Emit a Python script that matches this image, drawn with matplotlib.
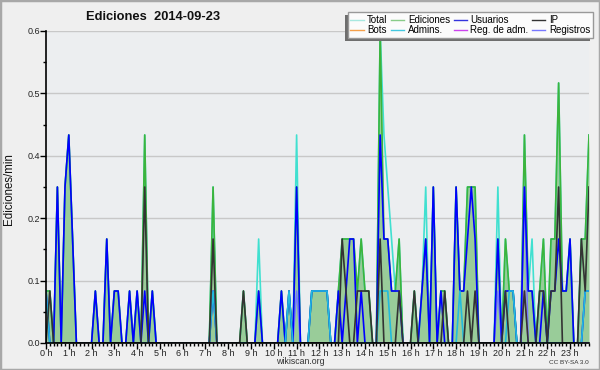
import matplotlib
matplotlib.use("Agg")
import matplotlib.pyplot as plt
from matplotlib.patches import Rectangle
from matplotlib.lines import Line2D
from matplotlib.ticker import FixedLocator, MultipleLocator, FuncFormatter
import numpy as np

plt.rcParams['font.family'] = ['Liberation Sans', 'DejaVu Sans']

# 10-minute bins, one row per hour (6 bins)
total = [
    .1, .1, 0, .3, 0, .3,
    .4, .2, 0, 0, 0, 0,
    0, .1, 0, 0, .2, 0,
    .1, .1, 0, 0, .1, 0,
    .1, 0, .4, 0, .1, 0,
    0, 0, 0, 0, 0, 0,
    0, 0, 0, 0, 0, 0,
    0, 0, .3, 0, 0, 0,
    0, 0, 0, 0, .1, 0,
    0, 0, .2, 0, 0, 0,
    0, 0, .1, 0, .1, 0,
    .4, 0, 0, 0, .1, .1,
    .1, .1, .1, 0, 0, .1,
    .2, .2, .2, .2, .1, .2,
    .1, .1, 0, 0, .6, .4,
    .3, .2, .1, .2, 0, 0,
    0, .1, 0, .1, .3, 0,
    .3, 0, .1, .1, 0, 0,
    .3, .1, .1, .3, .3, .3,
    0, 0, 0, 0, 0, .3,
    0, .2, .1, .1, 0, 0,
    .4, .1, .2, 0, .1, .2,
    0, .2, .2, .5, .1, .1,
    .2, 0, 0, .2, .2, .4,
]
ediciones = [
    .1, .1, 0, .3, 0, .3,
    .4, .2, 0, 0, 0, 0,
    0, .1, 0, 0, .2, 0,
    .1, .1, 0, 0, .1, 0,
    .1, 0, .4, 0, .1, 0,
    0, 0, 0, 0, 0, 0,
    0, 0, 0, 0, 0, 0,
    0, 0, .3, 0, 0, 0,
    0, 0, 0, 0, .1, 0,
    0, 0, .1, 0, 0, 0,
    0, 0, .1, 0, .1, 0,
    .3, 0, 0, 0, .1, .1,
    .1, .1, .1, 0, 0, .1,
    .2, .2, .2, .2, .1, .2,
    .1, .1, 0, 0, .6, .2,
    .2, .1, .1, .2, 0, 0,
    0, .1, 0, .1, .2, 0,
    .3, 0, .1, .1, 0, 0,
    .3, .1, .1, .3, .3, .3,
    0, 0, 0, 0, 0, .2,
    0, .2, .1, .1, 0, 0,
    .4, .1, .1, 0, .1, .2,
    0, .2, .2, .5, .1, .1,
    .2, 0, 0, .2, .2, .4,
]
usuarios = [
    .1, 0, 0, .3, 0, .3,
    .4, .2, 0, 0, 0, 0,
    0, .1, 0, 0, .2, 0,
    .1, .1, 0, 0, .1, 0,
    .1, 0, .1, 0, .1, 0,
    0, 0, 0, 0, 0, 0,
    0, 0, 0, 0, 0, 0,
    0, 0, .1, 0, 0, 0,
    0, 0, 0, 0, 0, 0,
    0, 0, .1, 0, 0, 0,
    0, 0, .1, 0, .1, 0,
    .3, 0, 0, 0, .1, .1,
    .1, .1, .1, 0, 0, .1,
    0, .1, .2, .2, 0, .1,
    0, 0, 0, 0, .4, .2,
    .2, .1, .1, .1, 0, 0,
    0, 0, 0, .1, .2, 0,
    .3, 0, .1, 0, 0, 0,
    .3, .1, .1, .2, .3, .2,
    0, 0, 0, 0, 0, .2,
    0, .1, .1, .1, 0, 0,
    .3, .1, .1, 0, 0, .1,
    0, .1, .1, .2, .1, .1,
    .2, 0, 0, 0, .1, .1,
]
ip = [
    0, .1, 0, 0, 0, 0,
    0, 0, 0, 0, 0, 0,
    0, 0, 0, 0, 0, 0,
    0, 0, 0, 0, 0, 0,
    0, 0, .3, 0, 0, 0,
    0, 0, 0, 0, 0, 0,
    0, 0, 0, 0, 0, 0,
    0, 0, .2, 0, 0, 0,
    0, 0, 0, 0, .1, 0,
    0, 0, 0, 0, 0, 0,
    0, 0, 0, 0, 0, 0,
    0, 0, 0, 0, 0, 0,
    0, 0, 0, 0, 0, 0,
    .2, .1, 0, 0, .1, .1,
    .1, .1, 0, 0, .2, 0,
    0, 0, 0, .1, 0, 0,
    0, .1, 0, 0, 0, 0,
    0, 0, 0, .1, 0, 0,
    0, 0, 0, .1, 0, .1,
    0, 0, 0, 0, 0, 0,
    0, .1, 0, 0, 0, 0,
    .1, 0, 0, 0, .1, .1,
    0, .1, .1, .3, 0, 0,
    0, 0, 0, .2, .1, .3,
]
admins = [
    .1, 0, 0, 0, 0, 0,
    0, 0, 0, 0, 0, 0,
    0, 0, 0, 0, 0, 0,
    0, 0, 0, 0, 0, 0,
    0, 0, 0, 0, 0, 0,
    0, 0, 0, 0, 0, 0,
    0, 0, 0, 0, 0, 0,
    0, 0, .1, 0, 0, 0,
    0, 0, 0, 0, 0, 0,
    0, 0, 0, 0, 0, 0,
    0, 0, 0, 0, .1, 0,
    0, 0, 0, 0, .1, .1,
    .1, .1, .1, 0, 0, 0,
    0, 0, 0, 0, 0, 0,
    0, 0, 0, 0, .1, .1,
    .1, 0, 0, 0, 0, 0,
    0, 0, 0, 0, 0, 0,
    0, 0, 0, 0, 0, 0,
    0, .1, 0, 0, 0, 0,
    0, 0, 0, 0, 0, 0,
    0, 0, .1, .1, 0, 0,
    0, 0, 0, 0, 0, 0,
    0, 0, 0, 0, 0, 0,
    0, 0, 0, 0, .1, .1,
]
reg_adm = [0] * 126 + [.1] + [0] * 17
registros = [0] * 66 + [.1] + [0] * 52 + [.1] + [0] * 6 + [.3] + [0] * 17
bots = [0] * 144

hour_labels = ["%d h" % h for h in range(24)]
y_ticks = [0, 0.12, 0.24, 0.36, 0.48, 0.6]
legend_labels = ["Total", "Bots", "Ediciones", "Admins.", "Usuarios", "Reg. de adm.", "IP", "Registros"]

n = len(total)
x = np.arange(n) / 6.0

fig = plt.figure(figsize=(6.0, 3.7), dpi=100)
fig.patch.set_facecolor('#efefef')
fig.patches.append(Rectangle((0, 0), 1, 1, transform=fig.transFigure, fill=False,
                             edgecolor='#a8a8a8', linewidth=2.5, zorder=10))

ax = fig.add_axes([46 / 600, 27 / 370, 543 / 600, 312 / 370])
ax.set_facecolor('#eceef0')

ax.fill_between(x, 0, ediciones, color='#99cc99', linewidth=0, zorder=1)
ax.plot(x, bots, color='#ff9933', lw=1, zorder=1.5)
ax.plot(x, total, color='#40e0d0', lw=1.2, zorder=2)
ax.plot(x, ediciones, color='#3cb43c', lw=1.2, zorder=3)
ax.plot(x, reg_adm, color='#cc44ee', lw=1.1, zorder=3.5)
ax.plot(x, registros, color='#7777ff', lw=1.1, zorder=3.6)
ax.plot(x, usuarios, color='#0000ff', lw=1.2, zorder=4)
ax.plot(x, admins, color='#22bbdd', lw=1.2, zorder=4.5)
ax.plot(x, ip, color='#333333', lw=1.2, zorder=5)

ax.set_xlim(0, x[-1])
ax.set_ylim(0, 0.6)

ax.yaxis.set_major_locator(FixedLocator(y_ticks))
ax.yaxis.set_minor_locator(FixedLocator([0.06, 0.18, 0.30, 0.42, 0.54]))
ax.yaxis.set_major_formatter(FuncFormatter(lambda v, p: "%.1f" % v))
ax.xaxis.set_major_locator(FixedLocator(range(24)))
ax.xaxis.set_minor_locator(MultipleLocator(1 / 6.0))
ax.set_xticklabels(hour_labels)

ax.grid(axis='y', which='major', color='#c8c8c8', lw=1, zorder=0)
ax.set_axisbelow(True)
for s in ['top', 'right']:
    ax.spines[s].set_visible(False)
for s in ['left', 'bottom']:
    ax.spines[s].set_color('black')
    ax.spines[s].set_linewidth(1.2)
    ax.spines[s].set_zorder(6)
ax.tick_params(axis='both', which='major', length=4, width=1, direction='out',
               labelsize=6.5, pad=0.5, colors='black', labelcolor='#222222')
ax.tick_params(axis='both', which='minor', length=2.5, width=1, direction='out')

fig.text(9 / 600, 1 - 189 / 370, "Ediciones/min", fontsize=8.3, rotation=90,
         ha='center', va='center', color='#111111')
fig.text(153 / 600, 1 - 17 / 370, "Ediciones  2014-09-23", fontsize=9.3, fontweight='bold',
         ha='center', va='center', color='#111111')
fig.text(0.5, 1 - 362 / 370, "wikiscan.org", fontsize=6.3, ha='center', va='center',
         color='#333333')
fig.text(589 / 600, 1 - 362 / 370, "CC BY-SA 3.0", fontsize=4.6, ha='right', va='center',
         color='#333333')

handles = [
    Line2D([], [], color='#a8e8e0', lw=1), Line2D([], [], color='#f5a04a', lw=1),
    Line2D([], [], color='#88cc88', lw=1), Line2D([], [], color='#44c8e0', lw=1),
    Line2D([], [], color='#3333dd', lw=1), Line2D([], [], color='#cc44ee', lw=1),
    Line2D([], [], color='#333333', lw=1), Line2D([], [], color='#7777ff', lw=1),
]
leg = fig.legend(handles, legend_labels, ncol=4, loc='upper right',
                 bbox_to_anchor=(593 / 600, 1 - 12 / 370), fontsize=7,
                 handlelength=1.35, handletextpad=0.35, columnspacing=0.4,
                 labelspacing=0.05, borderpad=0.3, borderaxespad=0,
                 fancybox=False, framealpha=1, facecolor='#fbfbfb', edgecolor='#999999')
leg.get_frame().set_linewidth(1)
leg.set_zorder(8)
fig.canvas.draw()
bb = leg.get_window_extent()
fig.patches.append(Rectangle((bb.x0 - 3, bb.y0 - 3), bb.width, bb.height, transform=None,
                             facecolor='#6e6e6e', edgecolor='none', zorder=7))

fig.savefig("out.png", dpi=100, facecolor=fig.get_facecolor())
